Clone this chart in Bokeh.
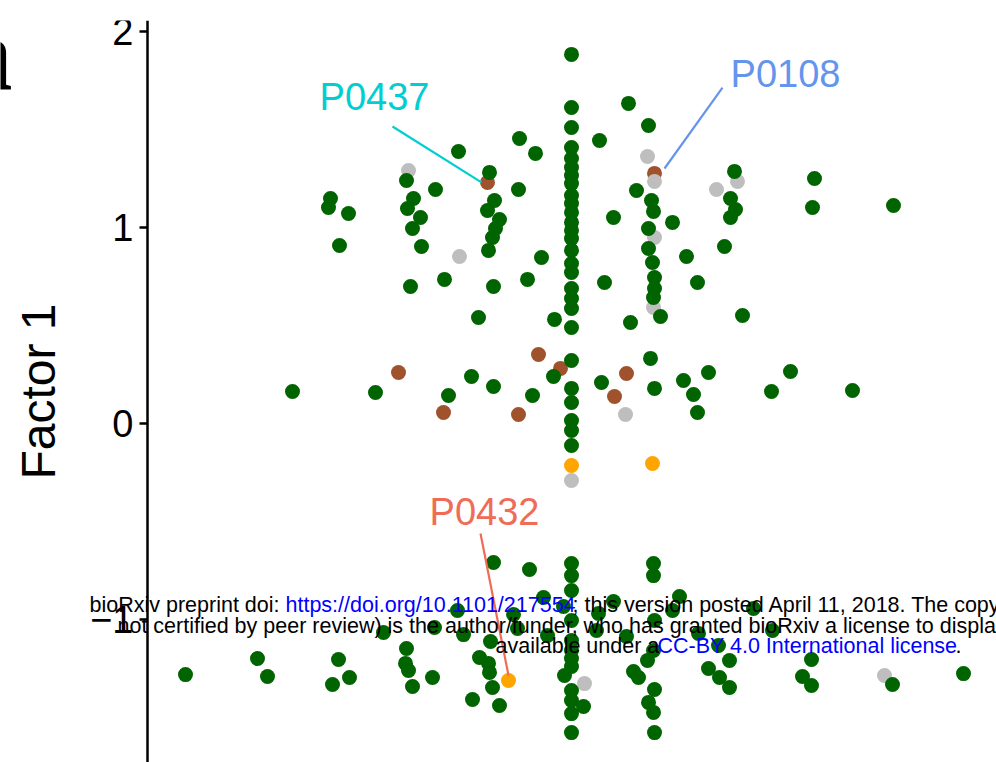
from bokeh.plotting import figure
from bokeh.models import Range1d, FixedTicker, Label, ColumnDataSource
from bokeh.core.properties import value
from bokeh.embed import file_html
from bokeh.resources import INLINE

# ---- data (x: position within panel, arbitrary units; y: Factor 1) ----
green_x = [
    # central column
    42.4, 42.4, 42.4, 42.4, 42.4, 42.4, 42.4, 42.4, 42.4, 42.4, 42.4, 42.4, 42.4,
    42.4, 42.4, 42.4, 42.4, 42.4, 42.4, 42.4, 42.4, 42.4, 42.4, 42.4, 42.4, 42.4,
    42.4, 42.4, 42.4, 42.4, 42.4, 42.4, 42.4, 42.4, 42.4, 42.4, 42.4, 42.4, 42.4,
    # second column
    50.1, 50.4, 50.6, 50.1, 50.1, 50.5, 50.7, 50.7, 50.6, 51.3, 50.3, 50.7,
    50.6, 50.6, 50.7, 50.6, 50.0, 50.7, 50.1, 50.6, 50.7,
    # upper cloud
    31.1, 25.9, 28.8, 34.2, 34.7, 34.0, 35.2, 34.8, 34.5, 34.1, 18.3, 18.1, 20.1,
    26.6, 26.0, 27.3, 26.5, 19.2, 27.4, 26.3, 29.7, 34.6, 33.1, 37.2, 38.8, 37.1,
    39.4, 38.0, 40.7, 48.1, 45.2, 48.9, 46.6, 52.5, 45.7, 48.3, 53.9, 55.0, 58.7,
    58.3, 58.8, 58.3, 57.7, 59.5, 66.7, 66.5, 74.6,
    # middle band
    14.5, 22.8, 30.1, 32.4, 34.6, 38.5, 40.6, 45.4, 53.6, 54.6, 55.0, 56.1, 64.3,
    62.4, 70.5,
    # lower cloud
    3.8, 11.0, 12.0, 19.1, 18.5, 20.2, 23.6, 25.9, 25.8, 26.1, 26.5, 28.5, 28.7,
    31.0, 31.6, 34.3, 33.2, 34.1, 34.2, 34.5, 32.5, 34.6, 35.2, 38.2, 36.6, 37.0,
    39.6, 40.0, 41.6, 41.7, 43.6, 45.1, 44.9, 46.6, 47.9, 52.5, 53.2, 48.6, 49.1,
    55.1, 60.6, 62.5, 57.1, 58.2, 56.1, 57.2, 58.2, 66.4, 65.5, 66.4, 74.5, 81.6,
]
green_y = [
    1.883, 1.612, 1.510, 1.408, 1.352, 1.306, 1.265, 1.224, 1.163, 1.122, 1.077, 1.026, 0.985,
    0.944, 0.883, 0.816, 0.770, 0.689, 0.638, 0.587, 0.490, 0.321, 0.179, 0.107, 0.015, -0.036,
    -0.112, -0.714, -0.776, -0.852, -1.005, -1.107, -1.158, -1.199, -1.240, -1.362, -1.413, -1.480, -1.577,
    1.520, 1.138, 1.082, 0.995, 0.893, 0.821, 0.745, 0.689, 0.643, 0.546, 0.332, 0.179,
    -0.714, -0.776, -1.005, -1.158, -1.209, -1.357, -1.423, -1.474, -1.577,
    1.388, 1.240, 1.194, 1.281, 1.138, 1.087, 1.041, 0.995, 0.949, 0.883, 1.148, 1.102, 1.071,
    1.148, 1.097, 1.051, 0.995, 0.908, 0.903, 0.699, 0.735, 0.699, 0.541, 1.454, 1.378, 1.194,
    0.847, 0.735, 0.531, 1.633, 1.444, 1.189, 1.051, 1.026, 0.719, 0.515, 0.852, 0.719, 1.286,
    1.148, 1.092, 1.051, 0.903, 0.551, 1.250, 1.102, 1.112,
    0.163, 0.158, 0.143, 0.240, 0.189, 0.143, 0.240, 0.209, 0.219, 0.148, 0.056, 0.260, 0.265,
    0.163, 0.168,
    -1.281, -1.199, -1.291, -1.204, -1.332, -1.296, -1.066, -1.148, -1.224, -1.260, -1.342, -1.296, -1.041,
    -0.954, -1.077, -1.112, -1.194, -1.224, -1.270, -1.347, -1.408, -0.709, -1.439, -0.745, -0.974, -1.046,
    -0.888, -1.082, -0.934, -1.286, -1.444, -0.969, -1.056, -0.908, -1.087, -0.954, -0.883, -1.265, -1.296,
    -1.071, -0.944, -1.056, -1.133, -1.209, -1.250, -1.296, -1.347, -1.204, -1.291, -1.337, -1.332, -1.276,
]
gray_x = [26.1, 31.2, 50.0, 50.7, 50.7, 50.6, 59.0, 56.9, 47.8, 42.4, 43.7, 73.7]
gray_y = [1.291, 0.852, 1.362, 1.235, 0.949, 0.592, 1.235, 1.194, 0.046, -0.291, -1.327, -1.286]
brown_x = [34.0, 50.7, 25.1, 29.6, 39.1, 41.3, 37.1, 47.9, 46.7]
brown_y = [1.230, 1.276, 0.260, 0.056, 0.352, 0.281, 0.046, 0.255, 0.138]
orange_x = [42.4, 50.5, 36.1]
orange_y = [-0.214, -0.204, -1.311]

# highlighted samples: label, text position, point it refers to
hl_names = ["P0437", "P0108", "P0432"]
hl_colors = ["#00CED1", "#6495ED", "#EF6C57"]
hl_text_x = [22.7, 63.8, 33.7]
hl_text_y = [1.668, 1.781, -0.454]
hl_line_x0 = [24.5, 57.5, 33.3]
hl_line_y0 = [1.515, 1.714, -0.561]
hl_pt_x = [33.4, 51.7, 36.1]
hl_pt_y = [1.230, 1.301, -1.286]

y_ticks = [-1, 0, 1, 2]
y_tick_labels = {-1: "\u22121", 0: "0", 1: "1", 2: "2"}

FONT = "Liberation Sans"

p = figure(width=996, height=762, output_backend="svg", toolbar_location=None,
           x_range=Range1d(-14.7, 84.9), y_range=Range1d(-1.7296, 2.056),
           x_axis_location=None,
           min_border_left=0, min_border_right=0, min_border_top=20, min_border_bottom=0)
p.grid.visible = False
p.outline_line_color = None
p.background_fill_color = "white"
p.border_fill_color = "white"

ax = p.yaxis[0]
ax.fixed_location = 0
ax.ticker = FixedTicker(ticks=y_ticks)
ax.major_label_overrides = y_tick_labels
ax.axis_line_width = 2.5
ax.axis_line_color = "black"
ax.major_tick_line_width = 2.5
ax.major_tick_line_color = "black"
ax.major_tick_out = 8
ax.major_tick_in = 0
ax.minor_tick_line_color = None
ax.major_label_text_font = FONT
ax.major_label_text_font_size = "38px"
ax.major_label_text_color = "black"
ax.major_label_standoff = 6
ax.axis_label = "Factor 1"
ax.axis_label_text_font = FONT
ax.axis_label_text_font_size = "48px"
ax.axis_label_text_font_style = "normal"
ax.axis_label_text_color = "black"
ax.axis_label_standoff = 22

p.scatter(brown_x, brown_y, size=15, fill_color="#A0522D", line_color=None)
p.scatter(gray_x, gray_y, size=15, fill_color="#BEBEBE", line_color=None)
p.scatter(green_x, green_y, size=15, fill_color="#006400", line_color=None)
p.scatter(orange_x, orange_y, size=15, fill_color="#FFA500", line_color=None)

hl = ColumnDataSource(dict(name=hl_names, color=hl_colors, tx=hl_text_x, ty=hl_text_y,
                           x0=hl_line_x0, y0=hl_line_y0, x1=hl_pt_x, y1=hl_pt_y))
p.segment(x0="x0", y0="y0", x1="x1", y1="y1", line_color="color", line_width=2.2, source=hl)
p.text(x="tx", y="ty", text="name", text_color="color", text_font=value(FONT),
       text_font_size="38px", text_align="center", text_baseline="middle", source=hl)

# panel letter (cut by the page edge); screen units measured from the frame's lower-left corner
p.add_layout(Label(x=12, y=709, x_units="screen", y_units="screen", text="a",
                   text_font="Liberation Serif", text_font_style="bold",
                   text_font_size="105px", text_align="right", text_baseline="alphabetic",
                   text_color="black"))

# bioRxiv watermark
wm = [
    (89, 158, "bioRxiv preprint doi: ", "black"),
    (285, 158, "https://doi.org/10.1101/217554", "#0000FF"),
    (572, 158, "; this version posted April 11, 2018. The copyright holder for this preprint (which was", "black"),
    (117, 137, "not certified by peer review) is the author/funder, who has granted bioRxiv a license to display the preprint in perpetuity. It is made", "black"),
    (495, 117, "available under a", "black"),
    (657, 117, "CC-BY 4.0 International license", "#0000FF"),
    (955, 117, ".", "black"),
]
for px, sy, txt, col in wm:
    p.add_layout(Label(x=px, y=sy, x_units="screen", y_units="screen", text=txt,
                       text_font=FONT, text_font_size="21.5px", text_color=col,
                       text_align="left", text_baseline="alphabetic"))

open("out.html", "w").write(file_html(p, INLINE))
